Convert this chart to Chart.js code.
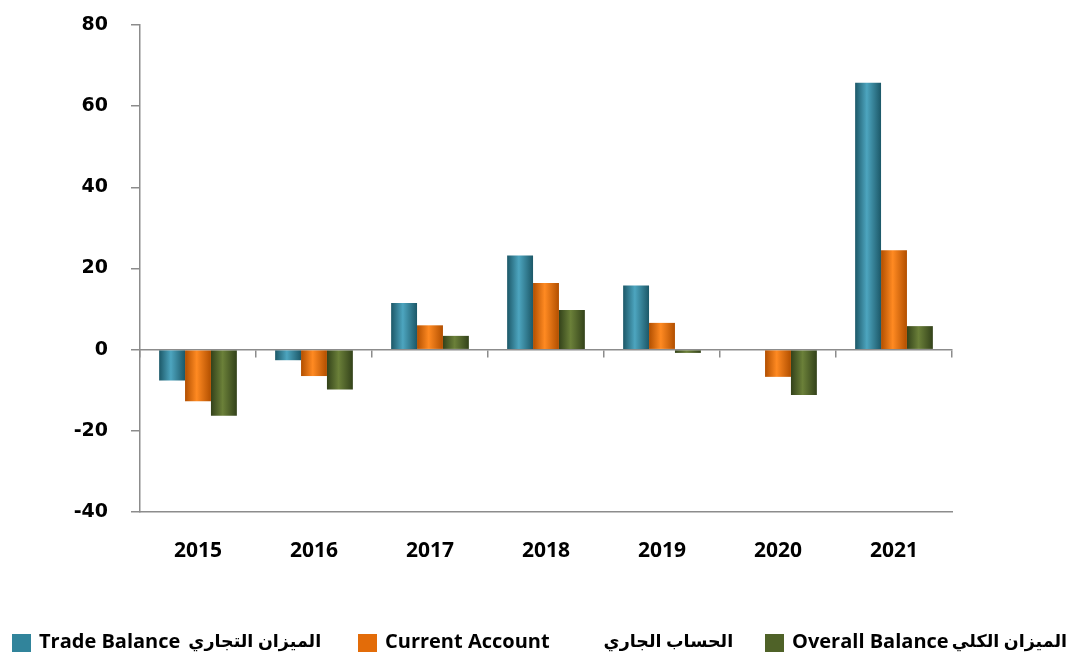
<!DOCTYPE html>
<html>
<head>
<meta charset="utf-8">
<script src="https://cdn.jsdelivr.net/npm/chart.js@4/dist/chart.umd.min.js"></script>
<style>
  html, body { margin: 0; padding: 0; background: #fff; }
  #wrap { position: relative; width: 1073px; height: 654px; }
  #legenda { position: absolute; left: 0; top: 626px; width: 1073px; height: 28px;
             font-family: 'Open Sans', 'DejaVu Sans', sans-serif; font-weight: bold; color: #000; }
  .item { position: absolute; top: 0; display: flex; align-items: center; white-space: nowrap; height: 28px; }
  .caixa { width: 19px; height: 18px; margin-right: 8px; margin-top: 5px; }
  .en { font-size: 20px; }
  .ar { font-size: 17.5px; margin-left: 6px; }
</style>
</head>
<body>
<div id="wrap">
  <canvas id="grafico"></canvas>
  <div id="legenda"></div>
</div>
<script>
const anos = ['2015', '2016', '2017', '2018', '2019', '2020', '2021'];
const tradeBalance = [-7.6, -2.6, 11.5, 23.2, 15.8, 0, 65.8];
const currentAccount = [-12.7, -6.5, 6.0, 16.4, 6.6, -6.7, 24.5];
const overallBalance = [-16.3, -9.8, 3.4, 9.8, -0.8, -11.2, 5.8];
const yMin = -40, yMax = 80, yPasso = 20;
const nomesEn = ['Trade Balance', 'Current Account', 'Overall Balance'];
const nomesAr = ['الميزان التجاري', 'الحساب الجاري', 'الميزان الكلي'];

const cores = ['#31849B', '#E36C09', '#4F6228'];
// borda escura / meio claro, para o efeito de cilindro
const sombras = [['#1c5868', '#4da5bf'], ['#b24f00', '#ff8a22'], ['#33421a', '#6b8039']];
const cinza = '#8c8c8c';
const posLegenda = [12, 358, 765];
const espacoAr = [8, 54, 3];

// pinta cada barra com gradiente horizontal
const cilindro = {
    id: 'cilindro',
    beforeDatasetsDraw(chart) {
        const ctx = chart.ctx;
        chart.data.datasets.forEach((ds, i) => {
            chart.getDatasetMeta(i).data.forEach(bar => {
                const x0 = bar.x - bar.width / 2;
                const x1 = bar.x + bar.width / 2;
                const g = ctx.createLinearGradient(x0, 0, x1, 0);
                g.addColorStop(0, sombras[i][0]);
                g.addColorStop(0.45, sombras[i][1]);
                g.addColorStop(1, sombras[i][0]);
                bar.options.backgroundColor = g;
            });
        });
    }
};

const ctx = document.getElementById('grafico').getContext('2d');
const chart = new Chart(ctx, {
    type: 'bar',
    data: {
        labels: anos,
        datasets: [tradeBalance, currentAccount, overallBalance].map((valores, i) => ({
            label: nomesEn[i] + ' ' + nomesAr[i],
            data: valores,
            backgroundColor: () => cores[i],
            borderWidth: 0,
            categoryPercentage: 0.67,
            barPercentage: 1
        }))
    },
    options: {
        responsive: true,
        maintainAspectRatio: false,
        animation: false,
        layout: { padding: { left: 0, right: 0, top: 25, bottom: 70 } },
        plugins: {
            tooltip: { enabled: false },
            legend: { display: false }
        },
        scales: {
            x: {
                offset: true,
                grid: { display: false, drawTicks: false },
                border: { display: true, color: cinza, width: 1.5 },
                ticks: {
                    color: '#000',
                    padding: 26,
                    font: { family: "'Open Sans', sans-serif", size: 21, weight: 'bold' }
                },
                afterFit(s) { s.height = 72; }
            },
            xZero: {
                axis: 'x',
                type: 'category',
                labels: anos,
                position: { y: 0 },
                offset: true,
                grid: { offset: true, drawOnChartArea: false, tickLength: 7, color: cinza, lineWidth: 1.5 },
                border: { display: true, color: cinza, width: 1.5 },
                ticks: { display: false },
                afterFit(s) { s.height = 0; }
            },
            y: {
                min: yMin,
                max: yMax,
                grid: { drawOnChartArea: false, tickLength: 9, color: cinza, lineWidth: 1.5 },
                border: { display: true, color: cinza, width: 1.5 },
                ticks: {
                    stepSize: yPasso,
                    color: '#000',
                    padding: 23,
                    font: { family: "'DejaVu Sans', sans-serif", size: 19, weight: 'bold' }
                },
                afterFit(s) {
                    s.width = 140;
                    s.paddingTop = 0;
                    s.paddingBottom = 0;
                }
            },
            // eixo vazio à direita só para reservar a margem
            yVazio: {
                axis: 'y',
                position: 'right',
                min: yMin,
                max: yMax,
                grid: { display: false },
                border: { display: false },
                ticks: { display: false },
                afterFit(s) { s.width = 121; }
            }
        }
    },
    plugins: [cilindro]
});

// legenda em HTML (texto bilíngue)
const legenda = document.getElementById('legenda');
nomesEn.forEach((nome, i) => {
    const item = document.createElement('div');
    item.className = 'item';
    item.style.left = posLegenda[i] + 'px';
    const caixa = document.createElement('span');
    caixa.className = 'caixa';
    caixa.style.background = cores[i];
    const en = document.createElement('span');
    en.className = 'en';
    en.textContent = nome;
    const ar = document.createElement('span');
    ar.className = 'ar';
    ar.dir = 'rtl';
    ar.lang = 'ar';
    ar.style.marginLeft = espacoAr[i] + 'px';
    ar.textContent = nomesAr[i];
    item.append(caixa, en, ar);
    legenda.appendChild(item);
});
</script>
</body>
</html>
